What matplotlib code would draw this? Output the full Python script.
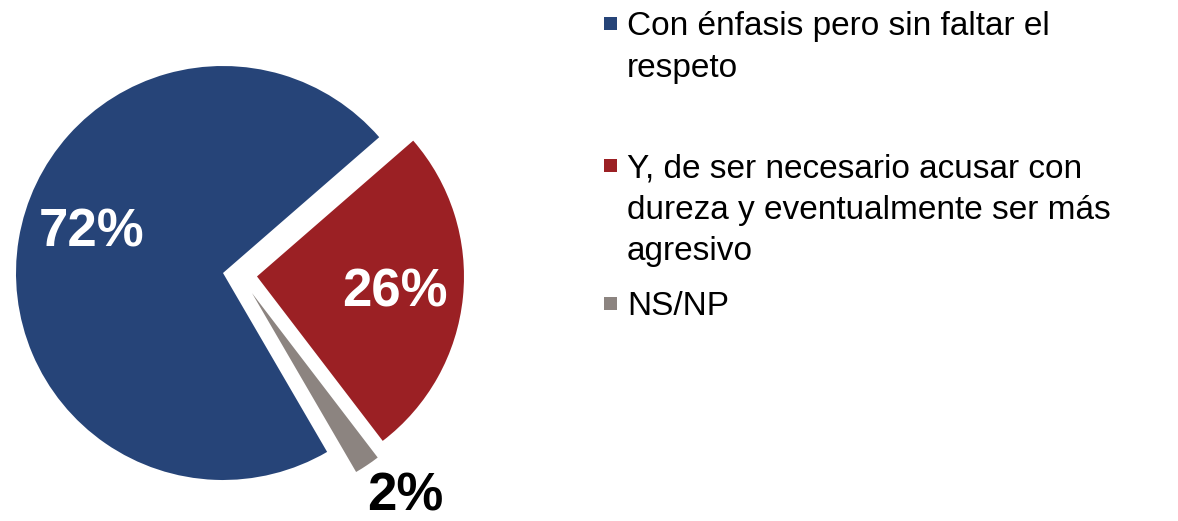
import matplotlib.pyplot as plt
from matplotlib.patches import Rectangle

# respuestas y porcentajes
respuestas = ['Con énfasis pero sin faltar el\nrespeto',
              'Y, de ser necesario acusar con\ndureza y eventualmente ser más\nagresivo',
              'NS/NP']
porcentajes = [72, 26, 2]
colores = ['#264478', '#9B2024', '#8C8480']
color_texto = ['white', 'white', 'black']

W, H = 1178, 521
fig = plt.figure(figsize=(W / 100, H / 100), dpi=100)

# pie center and radius in pixels
cx, cy, r = 223, 273, 207
ax = fig.add_axes([0, 0, 600 / W, 1])
wedges, _ = ax.pie(porcentajes, colors=colores, explode=[0, 0.165, 0.17],
                   startangle=300.2, counterclock=False,
                   wedgeprops={'linewidth': 0})
# nudge the small slice away from the big one
wedges[2].set_center((0.14, -0.097))
ax.set_aspect('auto')
ax.set_xlim(-cx / r, (600 - cx) / r)
ax.set_ylim(-(H - cy) / r, cy / r)

# etiquetas de porcentaje
pos_etiquetas = [(-0.633, 0.198), (0.831, -0.092), (0.879, -1.082)]
for v, (x, y), c in zip(porcentajes, pos_etiquetas, color_texto):
    ax.text(x, y, f'{v}%', color=c, fontsize=38, fontweight='bold',
            family='Liberation Sans', ha='center', va='center')

# leyenda a la derecha
inicio = [35, 177, 315]
paso = 41.7
for texto, col, y0 in zip(respuestas, colores, inicio):
    fig.add_artist(Rectangle((604 / W, 1 - (y0 - 5) / H), 13 / W, 13 / H,
                             transform=fig.transFigure, color=col, lw=0))
    for i, linea in enumerate(texto.split('\n')):
        fig.text(627 / W, 1 - (y0 + i * paso) / H, linea, fontsize=24,
                 family='Liberation Sans', color='black', va='baseline', ha='left')

fig.savefig('out.png', dpi=100)
